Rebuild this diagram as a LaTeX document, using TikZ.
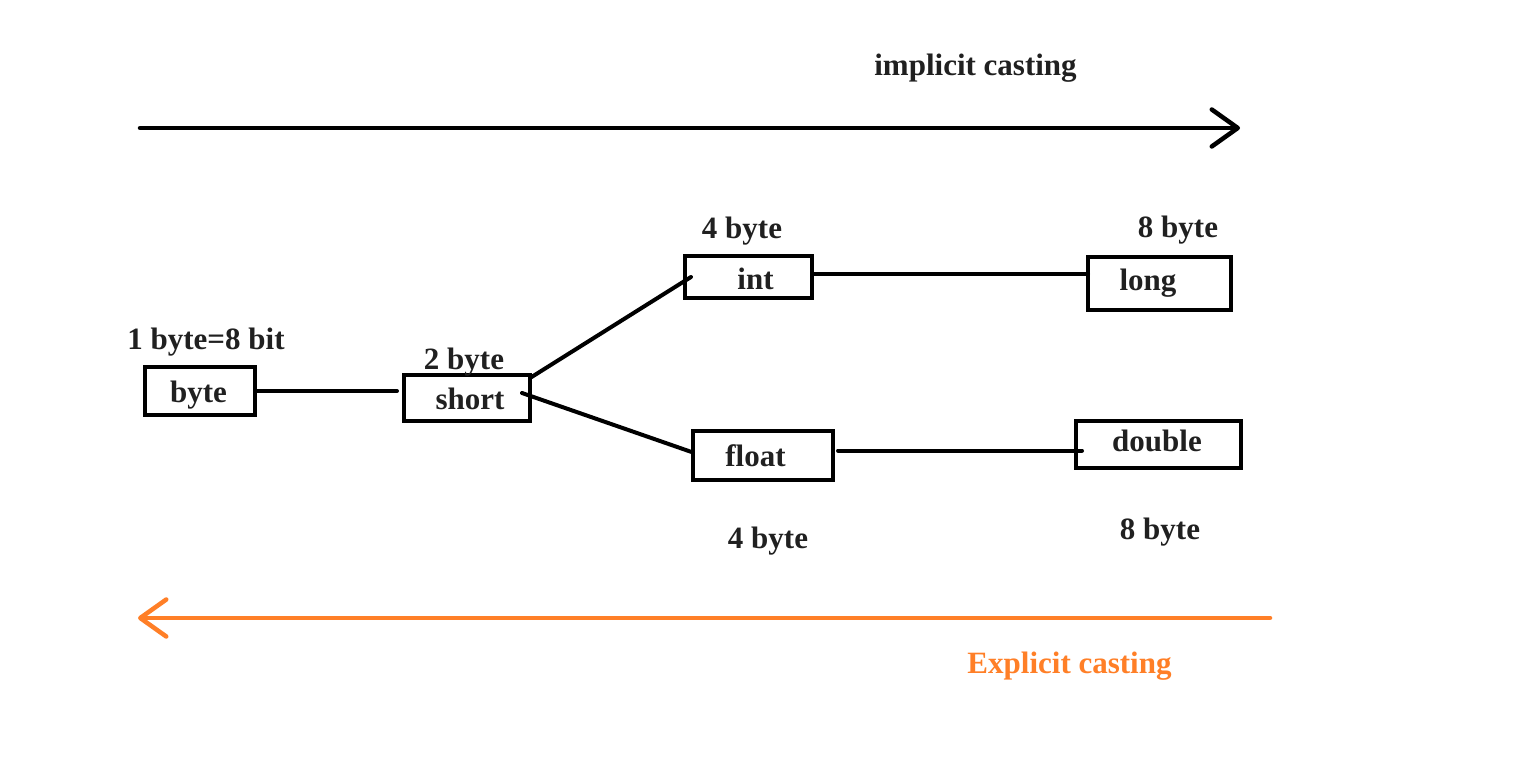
\documentclass[tikz,border=0pt]{standalone}
\usepackage{fontspec}
\setmainfont{Liberation Serif}
\usetikzlibrary{arrows.meta}
\definecolor{ink}{HTML}{202020}
\definecolor{paintorange}{HTML}{FF7F27}
\begin{document}
\begin{tikzpicture}[x=1pt,y=-1pt,
  lbl/.style={anchor=base,inner sep=0pt,outer sep=0pt,text=ink,font=\fontsize{31}{37}\selectfont\bfseries},
  box/.style={draw=black,line width=4pt,inner sep=0pt,outer sep=0pt},
  conn/.style={draw=black,line width=4pt,line cap=round},
  bigarrow/.style={line width=4.5pt,line cap=round,-{Straight Barb[length=26pt,width=37pt,line cap=round,line join=round]}}
]
\useasboundingbox[fill=white] (0,0) rectangle (1514,759);

% boxes
\node[box,minimum width=110pt,minimum height=48pt] (byte) at (200,391) {};
\node[box,minimum width=126pt,minimum height=46pt] (short) at (467,398) {};
\node[box,minimum width=127pt,minimum height=42pt] (int) at (748.5,277) {};
\node[box,minimum width=143pt,minimum height=53pt] (long) at (1159.5,283.5) {};
\node[box,minimum width=140pt,minimum height=49pt] (float) at (763,455.5) {};
\node[box,minimum width=165pt,minimum height=47pt] (double) at (1158.5,444.5) {};

% box texts
\node[lbl] (tbyte) at (198.5,402) {byte};
\node[lbl] (tshort) at (470,409) {short};
\node[lbl] (tint) at (755.5,289) {int};
\node[lbl] (tlong) at (1148,290) {long};
\node[lbl] (tfloat) at (755.5,466) {float};
\node[lbl] (tdouble) at (1157,451) {double};

% size labels
\node[lbl] (sbyte) at (206,349) {1 byte=8 bit};
\node[lbl] (sshort) at (464,369) {2 byte};
\node[lbl] (sint) at (742,239) {4 byte};
\node[lbl] (slong) at (1178,238) {8 byte};
\node[lbl] (sfloat) at (768,548) {4 byte};
\node[lbl] (sdouble) at (1160,539) {8 byte};

% titles
\node[lbl] (implicit) at (975.5,76) {implicit casting};
\node[lbl,text=paintorange] (explicit) at (1069.5,673) {Explicit casting};

% connectors
\coordinate (bs) at ([xshift=-7pt]short.west |- byte.east);
\draw[conn] (byte.east) -- (bs);
\draw[conn] ([shift={(0,3)}]short.north east) -- ([xshift=6pt]int.west);
\draw[conn] ([shift={(-8,-5)}]short.east) -- ([shift={(0,-3)}]float.west);
\coordinate (il0) at ([shift={(0,-3)}]int.east);
\coordinate (il1) at (il0 -| long.west);
\draw[conn] (il0) -- (il1);
\coordinate (fd0) at ([shift={(5,-5)}]float.east);
\coordinate (fd1) at ([xshift=6pt]double.west |- fd0);
\draw[conn] (fd0) -- (fd1);

% casting arrows
\coordinate (ia) at (140,128);
\coordinate (ib) at (1240,128);
\draw[bigarrow,draw=black] (ia) -- (ib);
\coordinate (ea) at (1270,618);
\coordinate (eb) at (138,618);
\draw[bigarrow,draw=paintorange] (ea) -- (eb);
\end{tikzpicture}
\end{document}
